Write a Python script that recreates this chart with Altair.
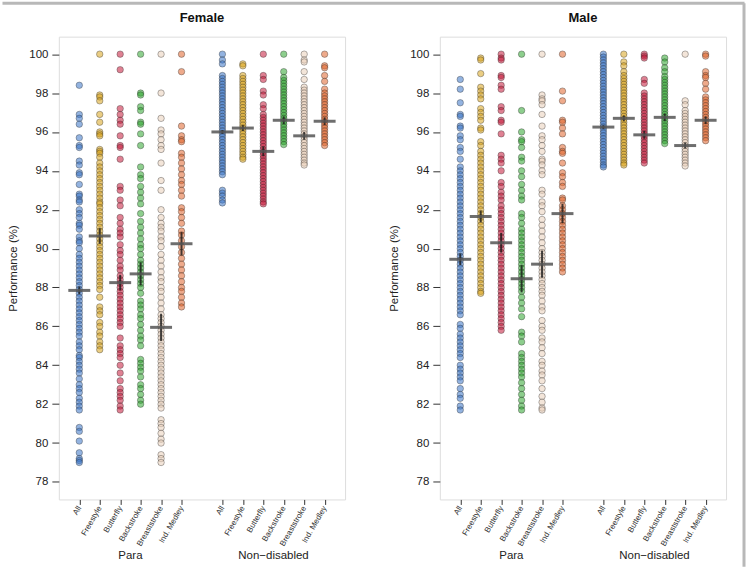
import altair as alt
import pandas as pd

# Event categories and their colours
STROKES = ["All", "Freestyle", "Butterfly", "Backstroke", "Breaststroke", "Ind. Medley"]
COLORS = ["#3a74c6", "#d9a41e", "#c41a3b", "#2fa52f", "#e9cfba", "#e0642c"]

Y_TICKS = [78, 80, 82, 84, 86, 88, 90, 92, 94, 96, 98, 100]

# ---------------- Female, Para ----------------
female_para_all = [98.4, 96.9, 96.7, 96.4, 95.7, 95.3, 95.2, 94.5, 94.3, 93.9, 93.8, 93.3, 92.8, 92.7, 92.5,
                   92.4, 92.0, 91.8, 91.6, 91.3, 91.2, 91.0, 90.6, 90.4, 90.3, 90.0, 89.7, 89.5, 89.3, 89.1,
                   88.9, 88.7, 88.5, 88.3, 88.1, 87.9, 87.7, 87.5, 87.3, 87.1, 86.9, 86.7, 86.5, 86.3, 86.1,
                   85.9, 85.7, 85.5, 85.2, 85.0, 84.8, 84.5, 84.4, 84.2, 84.0, 83.8, 83.6, 83.3, 83.0, 82.8,
                   82.6, 82.3, 82.1, 81.9, 81.7, 80.8, 80.6, 80.1, 79.5, 79.2, 79.1, 79.0]
female_para_free = [100.0, 97.9, 97.8, 97.6, 96.9, 96.5, 96.0, 95.9, 95.8, 95.1, 95.0, 94.9, 94.7, 94.4, 94.2,
                    94.0, 93.8, 93.6, 93.4, 93.2, 93.0, 92.8, 92.6, 92.4, 92.3, 92.1, 91.9, 91.7, 91.5, 91.3,
                    91.1, 90.9, 90.7, 90.5, 90.3, 90.1, 89.9, 89.7, 89.5, 89.3, 89.1, 88.9, 88.7, 88.5, 88.3,
                    88.1, 87.9, 87.5, 87.0, 86.8, 86.6, 86.2, 86.0, 85.7, 85.5, 85.2, 85.0, 84.8]
female_para_fly = [100.0, 99.2, 97.2, 96.9, 96.6, 96.4, 95.8, 95.3, 95.2, 94.6, 93.2, 93.0, 92.5, 92.2, 91.6,
                   91.3, 91.0, 90.8, 90.6, 90.2, 89.9, 89.7, 89.4, 89.1, 88.9, 88.6, 88.4, 88.2, 88.0, 87.8,
                   87.6, 87.4, 87.2, 87.0, 86.8, 86.6, 86.4, 86.2, 86.0, 85.4, 85.0, 84.8, 84.6, 84.4, 84.0,
                   83.6, 83.2, 82.8, 82.6, 82.4, 82.2, 81.9, 81.7]
female_para_back = [100.0, 98.0, 97.9, 97.3, 97.1, 96.5, 96.4, 95.9, 95.3, 94.2, 93.8, 93.6, 93.2, 92.9, 92.6,
                    92.3, 91.8, 91.4, 91.1, 90.8, 90.5, 90.2, 90.0, 89.7, 89.4, 89.2, 89.0, 88.8, 88.6, 88.4,
                    88.2, 88.0, 87.7, 87.3, 87.1, 86.9, 86.6, 86.4, 86.1, 85.8, 85.5, 85.3, 85.0, 84.3, 84.1,
                    83.9, 83.7, 83.4, 83.0, 82.8, 82.5, 82.2, 82.0]
female_para_breast = [100.0, 98.0, 96.7, 96.1, 95.9, 95.6, 95.3, 95.1, 94.4, 93.5, 93.0, 92.0, 91.6, 91.3,
                      91.1, 90.9, 90.6, 90.4, 90.1, 89.7, 89.4, 89.1, 88.8, 88.5, 88.3, 88.0, 87.8, 87.5,
                      87.2, 86.9, 86.6, 86.4, 86.2, 86.0, 85.8, 85.6, 85.4, 85.2, 85.0, 84.8, 84.6, 84.4,
                      84.2, 84.0, 83.8, 83.6, 83.4, 83.2, 83.0, 82.8, 82.6, 82.4, 82.2, 82.0, 81.8, 81.2,
                      81.0, 80.8, 80.5, 80.2, 80.0, 79.4, 79.2, 79.0]
female_para_im = [100.0, 99.1, 96.3, 95.8, 95.6, 95.5, 94.9, 94.7, 94.4, 94.1, 93.8, 93.5, 93.3, 93.0, 92.7,
                  92.1, 91.9, 91.6, 91.3, 90.9, 90.7, 90.4, 90.1, 89.8, 89.5, 89.2, 88.9, 88.6, 88.3, 88.0,
                  87.8, 87.5, 87.2, 87.0]

# ---------------- Female, Non-disabled ----------------
female_nd_all = [100.0, 99.7, 99.5, 98.9, 98.75, 98.6, 98.45, 98.3, 98.15, 98.0, 97.85, 97.7, 97.55, 97.4,
                 97.25, 97.1, 96.95, 96.8, 96.65, 96.5, 96.35, 96.2, 96.05, 95.9, 95.75, 95.6, 95.45, 95.3,
                 95.15, 95.0, 94.85, 94.7, 94.55, 94.4, 94.25, 94.1, 93.95, 93.8, 93.0, 92.85, 92.7, 92.5,
                 92.35]
female_nd_free = [99.5, 99.4, 98.9, 98.75, 98.6, 98.45, 98.3, 98.15, 98.0, 97.85, 97.7, 97.55, 97.4, 97.25,
                  97.1, 96.95, 96.8, 96.65, 96.5, 96.35, 96.2, 96.05, 95.9, 95.75, 95.6, 95.45, 95.3, 95.15,
                  95.0, 94.85, 94.7, 94.6]
female_nd_fly = [100.0, 98.9, 98.7, 98.1, 97.9, 97.4, 97.2, 96.9, 96.75, 96.6, 96.45, 96.3, 96.15, 96.0,
                 95.85, 95.7, 95.55, 95.4, 95.25, 95.1, 94.95, 94.8, 94.65, 94.5, 94.35, 94.2, 94.05, 93.9,
                 93.75, 93.6, 93.45, 93.3, 93.15, 93.0, 92.85, 92.7, 92.55, 92.4, 92.3]
female_nd_back = [100.0, 99.1, 98.8, 98.65, 98.5, 98.35, 98.2, 98.05, 97.9, 97.75, 97.6, 97.45, 97.3, 97.15,
                  97.0, 96.85, 96.7, 96.55, 96.4, 96.25, 96.1, 95.95, 95.8, 95.65, 95.5, 95.35]
female_nd_breast = [100.0, 99.7, 99.6, 99.1, 98.7, 98.3, 98.15, 98.0, 97.85, 97.7, 97.55, 97.4, 97.25, 97.1,
                    96.95, 96.8, 96.65, 96.5, 96.35, 96.2, 96.05, 95.9, 95.75, 95.6, 95.45, 95.3, 95.15,
                    95.0, 94.85, 94.7, 94.55, 94.4, 94.3]
female_nd_im = [100.0, 99.4, 99.3, 98.9, 98.6, 98.2, 98.0, 97.85, 97.7, 97.55, 97.4, 97.25, 97.1, 96.95,
                96.8, 96.65, 96.5, 96.35, 96.2, 96.05, 95.9, 95.75, 95.6, 95.45, 95.3]

# ---------------- Male, Para ----------------
male_para_all = [98.7, 98.2, 97.5, 96.9, 96.8, 96.3, 96.2, 95.8, 95.6, 95.2, 95.0, 94.6, 94.2, 94.0, 93.8,
                 93.6, 93.4, 93.2, 93.0, 92.8, 92.6, 92.4, 92.2, 92.0, 91.8, 91.6, 91.4, 91.2, 91.0, 90.8,
                 90.6, 90.4, 90.2, 90.0, 89.8, 89.6, 89.4, 89.2, 89.0, 88.8, 88.6, 88.4, 88.2, 88.0, 87.8,
                 87.6, 87.4, 87.2, 87.0, 86.8, 86.6, 86.1, 85.9, 85.6, 85.4, 85.2, 85.0, 84.8, 84.6, 84.4,
                 84.0, 83.8, 83.6, 83.4, 83.2, 82.8, 82.5, 82.3, 81.9, 81.7]
male_para_free = [99.8, 99.7, 99.0, 98.3, 98.1, 97.9, 97.7, 97.2, 97.0, 96.8, 96.6, 96.2, 96.1, 95.5, 95.3,
                  95.0, 94.8, 94.6, 94.4, 94.2, 94.0, 93.8, 93.6, 93.4, 93.2, 93.0, 92.8, 92.6, 92.4, 92.2,
                  92.0, 91.8, 91.6, 91.4, 91.2, 91.0, 90.8, 90.6, 90.4, 90.2, 90.0, 89.8, 89.6, 89.4, 89.2,
                  89.0, 88.8, 88.6, 88.4, 88.2, 88.0, 87.8, 87.7]
male_para_fly = [100.0, 99.8, 99.7, 98.9, 98.8, 98.4, 98.2, 97.3, 97.1, 96.6, 96.5, 95.9, 94.8, 94.6, 94.4,
                 94.0, 93.4, 93.2, 92.9, 92.7, 92.5, 92.2, 92.0, 91.8, 91.6, 91.4, 91.2, 91.0, 90.8, 90.6,
                 90.4, 90.2, 90.0, 89.8, 89.6, 89.4, 89.2, 89.0, 88.8, 88.6, 88.4, 88.2, 88.0, 87.8, 87.6,
                 87.4, 87.2, 87.0, 86.8, 86.6, 86.4, 86.2, 86.0, 85.8]
male_para_back = [100.0, 97.1, 96.0, 95.6, 95.5, 95.2, 94.7, 94.5, 94.0, 93.7, 93.3, 93.0, 92.7, 92.5, 91.8,
                  91.6, 91.3, 91.0, 90.8, 90.6, 90.4, 90.2, 90.0, 89.8, 89.6, 89.4, 89.2, 89.0, 88.8, 88.6,
                  88.4, 88.2, 88.0, 87.8, 87.5, 87.2, 86.9, 86.5, 85.7, 85.5, 85.2, 84.6, 84.4, 84.2, 84.0,
                  83.8, 83.6, 83.4, 83.1, 82.8, 82.5, 82.2, 81.9, 81.7]
male_para_breast = [100.0, 97.9, 97.7, 97.6, 97.4, 96.9, 96.3, 95.8, 95.6, 95.3, 95.0, 94.6, 94.5, 94.3,
                    94.0, 93.8, 93.0, 92.8, 92.4, 92.2, 91.9, 91.5, 91.2, 90.9, 90.6, 90.3, 90.0, 89.8,
                    89.6, 89.4, 89.2, 89.0, 88.8, 88.6, 88.4, 88.2, 88.0, 87.8, 87.6, 87.3, 87.0, 86.8,
                    86.3, 86.0, 85.8, 85.4, 85.2, 84.9, 84.6, 84.2, 84.0, 83.7, 83.5, 83.2, 82.8, 82.4,
                    82.1, 81.8, 81.7]
male_para_im = [100.0, 98.1, 97.6, 96.6, 96.5, 96.2, 95.9, 95.2, 95.0, 94.9, 94.4, 93.9, 93.7, 93.4, 93.2,
                92.6, 92.5, 92.2, 92.0, 91.8, 91.6, 91.4, 91.2, 91.0, 90.8, 90.6, 90.4, 90.2, 90.0, 89.8,
                89.6, 89.4, 89.2, 89.0, 88.8]

# ---------------- Male, Non-disabled ----------------
male_nd_all = [100.0, 99.85, 99.7, 99.55, 99.4, 99.25, 99.1, 98.95, 98.8, 98.65, 98.5, 98.35, 98.2, 98.05,
               97.9, 97.75, 97.6, 97.45, 97.3, 97.15, 97.0, 96.85, 96.7, 96.55, 96.4, 96.25, 96.1, 95.95,
               95.8, 95.65, 95.5, 95.35, 95.2, 95.05, 94.9, 94.75, 94.6, 94.45, 94.3, 94.2]
male_nd_free = [100.0, 99.6, 99.4, 99.1, 98.9, 98.75, 98.6, 98.45, 98.3, 98.15, 98.0, 97.85, 97.7, 97.55,
                97.4, 97.25, 97.1, 96.95, 96.8, 96.65, 96.5, 96.35, 96.2, 96.05, 95.9, 95.75, 95.6, 95.45,
                95.3, 95.15, 95.0, 94.85, 94.7, 94.55, 94.4, 94.3]
male_nd_fly = [100.0, 99.9, 99.8, 98.7, 98.5, 98.0, 97.85, 97.7, 97.55, 97.4, 97.25, 97.1, 96.95, 96.8,
               96.65, 96.5, 96.35, 96.2, 96.05, 95.9, 95.75, 95.6, 95.45, 95.3, 95.15, 95.0, 94.85, 94.7,
               94.55, 94.4]
male_nd_back = [99.8, 99.6, 99.3, 99.1, 98.85, 98.7, 98.55, 98.4, 98.25, 98.1, 97.95, 97.8, 97.65, 97.5,
                97.35, 97.2, 97.05, 96.9, 96.75, 96.6, 96.45, 96.3, 96.15, 96.0, 95.85, 95.7, 95.55, 95.4]
male_nd_breast = [100.0, 97.6, 97.4, 97.1, 96.95, 96.8, 96.65, 96.5, 96.35, 96.2, 96.05, 95.9, 95.75, 95.6,
                  95.45, 95.3, 95.15, 95.0, 94.85, 94.7, 94.55, 94.4, 94.25]
male_nd_im = [100.0, 99.9, 99.1, 98.9, 98.8, 98.5, 98.2, 97.8, 97.65, 97.5, 97.35, 97.2, 97.05, 96.9,
              96.75, 96.6, 96.45, 96.3, 96.15, 96.0, 95.85, 95.7, 95.55]

# Group means and half-widths of their confidence intervals
female_mean_para = [87.85, 90.65, 88.25, 88.7, 85.95, 90.25]
female_mean_nd = [96.0, 96.2, 95.0, 96.6, 95.8, 96.55]
female_ci_para = [0.2, 0.4, 0.4, 0.6, 0.7, 0.6]
female_ci_nd = [0.1, 0.15, 0.25, 0.2, 0.2, 0.2]

male_mean_para = [89.45, 91.65, 90.3, 88.45, 89.2, 91.8]
male_mean_nd = [96.25, 96.7, 95.85, 96.75, 95.3, 96.6]
male_ci_para = [0.3, 0.3, 0.5, 0.7, 0.7, 0.5]
male_ci_nd = [0.1, 0.15, 0.2, 0.2, 0.15, 0.2]

GROUP_LABELS = ["Para", "Non\u2212disabled"]

W, H = 287, 464
PARA_POS = [0, 1, 2, 3, 4, 5]
ND_POS = [7, 8, 9, 10, 11, 12]


def panel(title, para_lists, nd_lists, mean_para, mean_nd, ci_para, ci_nd, frame):
    rows = []
    for pos, name, vals in zip(PARA_POS, STROKES, para_lists):
        rows += [{"pos": pos, "value": v, "stroke": name} for v in vals]
    for pos, name, vals in zip(ND_POS, STROKES, nd_lists):
        rows += [{"pos": pos, "value": v, "stroke": name} for v in vals]
    pts = pd.DataFrame(rows)

    summ = pd.DataFrame({"pos": PARA_POS + ND_POS,
                         "mean": mean_para + mean_nd,
                         "half": ci_para + ci_nd})
    summ["lo"] = summ["mean"] - summ["half"]
    summ["hi"] = summ["mean"] + summ["half"]

    x_scale = alt.Scale(domain=[-1, 13], nice=False, zero=False)
    y_scale = alt.Scale(domain=[77.1, 100.9], nice=False, zero=False)
    x_axis = alt.Axis(values=PARA_POS + ND_POS,
                      labelExpr="['All','Freestyle','Butterfly','Backstroke','Breaststroke','Ind. Medley'][datum.value % 7]",
                      title=None, grid=False, domain=False, labelAngle=300, labelAlign="right",
                      labelBaseline="middle", labelFontSize=8, labelPadding=2, tickSize=5,
                      labelOverlap=False, labelBound=False, labelFlush=False,
                      tickColor="#333", labelColor="#333")
    y_axis = alt.Axis(values=Y_TICKS, title="Performance (%)", grid=False, domain=False,
                      labelFontSize=11.5, labelPadding=4, tickSize=7, tickColor="#333",
                      labelColor="#222", titleFontSize=11.5, titleFontWeight="normal",
                      titleColor="#222", titlePadding=4, minExtent=36, maxExtent=36)

    points = alt.Chart(pts).mark_circle(size=42, fillOpacity=0.55, stroke="#2a2a2a",
                                        strokeOpacity=0.6, strokeWidth=0.6).encode(
        x=alt.X("pos:Q", scale=x_scale, axis=x_axis),
        y=alt.Y("value:Q", scale=y_scale, axis=y_axis),
        color=alt.Color("stroke:N", scale=alt.Scale(domain=STROKES, range=COLORS), legend=None),
    )
    ci = alt.Chart(summ).mark_rule(color="#1a1a1a", strokeWidth=2, opacity=0.8).encode(
        x=alt.X("pos:Q", scale=x_scale, axis=x_axis),
        y=alt.Y("lo:Q", scale=y_scale, axis=y_axis),
        y2="hi:Q",
    )
    means = alt.Chart(summ).mark_tick(orient="horizontal", size=22, thickness=3,
                                      color="#555", opacity=0.85).encode(
        x=alt.X("pos:Q", scale=x_scale, axis=x_axis),
        y=alt.Y("mean:Q", scale=y_scale, axis=y_axis),
    )
    groups = alt.Chart(pd.DataFrame({"pos": [2.5, 9.5], "label": GROUP_LABELS})).mark_text(
        fontSize=11.5, baseline="middle", color="#222").encode(
        x=alt.X("pos:Q", scale=x_scale, axis=x_axis),
        y=alt.value(H + 57),
        text="label:N",
    )
    heading = alt.Chart(pd.DataFrame({"pos": [6], "label": [title]})).mark_text(
        fontSize=13, fontWeight="bold", baseline="middle", color="#111").encode(
        x=alt.X("pos:Q", scale=x_scale, axis=x_axis),
        y=alt.value(-19),
        text="label:N",
    )
    layers = [points, ci, means, groups, heading]
    one = pd.DataFrame({"k": [0]})
    if frame == "top":
        layers.append(alt.Chart(one).mark_rule(color="#b8b8b8", strokeWidth=3).encode(
            x=alt.value(-56.5), x2=alt.value(687.5), y=alt.value(-33.5)))
    if frame == "right":
        layers.append(alt.Chart(one).mark_rule(color="#b8b8b8", strokeWidth=3).encode(
            x=alt.value(305), y=alt.value(-33.5), y2=alt.value(531.5)))
    return alt.layer(*layers).properties(width=W, height=H)


female = panel("Female",
               [female_para_all, female_para_free, female_para_fly, female_para_back,
                female_para_breast, female_para_im],
               [female_nd_all, female_nd_free, female_nd_fly, female_nd_back,
                female_nd_breast, female_nd_im],
               female_mean_para, female_mean_nd, female_ci_para, female_ci_nd, "top")
male = panel("Male",
             [male_para_all, male_para_free, male_para_fly, male_para_back,
              male_para_breast, male_para_im],
             [male_nd_all, male_nd_free, male_nd_fly, male_nd_back,
              male_nd_breast, male_nd_im],
             male_mean_para, male_mean_nd, male_ci_para, male_ci_nd, "right")

chart = (
    alt.hconcat(female, male, spacing=95, bounds="flush")
    .properties(padding=0, background="white")
    .configure_view(stroke="#444", strokeWidth=1)
    .configure(font="Liberation Sans")
)

chart.save("out.html", embed_options={"renderer": "svg", "actions": False})
